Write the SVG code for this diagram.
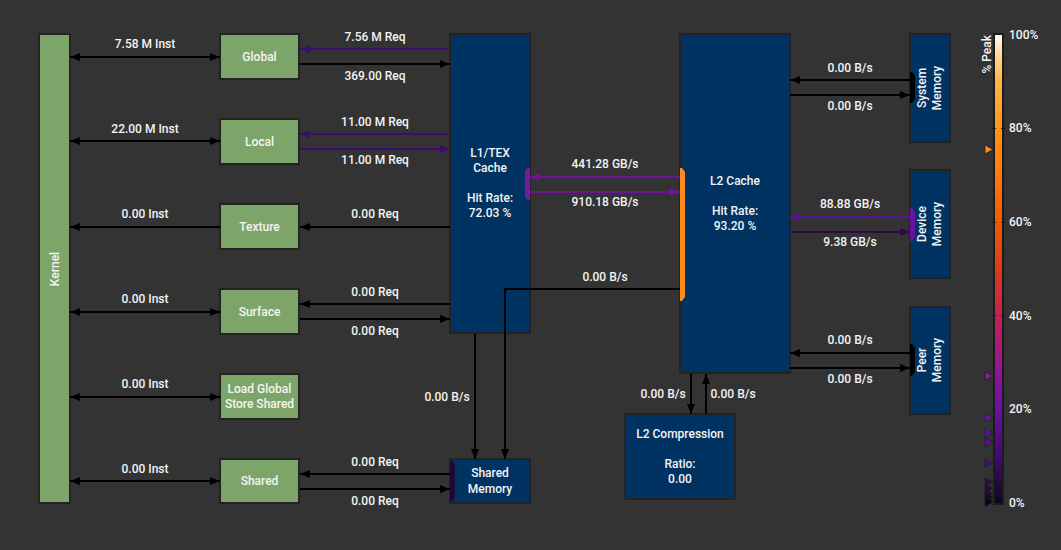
<svg xmlns="http://www.w3.org/2000/svg" width="1061" height="550" viewBox="0 0 1061 550">
<style>
.t{font-family:Roboto,"Liberation Sans",sans-serif;font-size:12px;font-weight:500;fill:#f4f4f4}
.m{text-anchor:middle}
.g{fill:#7da56a;stroke:#232323;stroke-width:2}
.b{fill:#003262;stroke:#232323;stroke-width:2}
.c{fill:none;stroke-width:2}
.k{stroke:#000}
.p1{stroke:#3d0c6e}
.p2{stroke:#70129b}
.p3{stroke:#5f1094}
.p4{stroke:#2c0a4e}
</style>
<defs>
<marker id="mk" viewBox="0 0 10 8" refX="10" refY="4" markerWidth="10" markerHeight="8" markerUnits="userSpaceOnUse" orient="auto-start-reverse"><path d="M0,0L10,4L0,8z" fill="#000"/></marker>
<marker id="m1" viewBox="0 0 10 8" refX="10" refY="4" markerWidth="10" markerHeight="8" markerUnits="userSpaceOnUse" orient="auto-start-reverse"><path d="M0,0L10,4L0,8z" fill="#3d0c6e"/></marker>
<marker id="m2" viewBox="0 0 10 8" refX="10" refY="4" markerWidth="10" markerHeight="8" markerUnits="userSpaceOnUse" orient="auto-start-reverse"><path d="M0,0L10,4L0,8z" fill="#70129b"/></marker>
<marker id="m3" viewBox="0 0 10 8" refX="10" refY="4" markerWidth="10" markerHeight="8" markerUnits="userSpaceOnUse" orient="auto-start-reverse"><path d="M0,0L10,4L0,8z" fill="#5f1094"/></marker>
<marker id="m4" viewBox="0 0 10 8" refX="10" refY="4" markerWidth="10" markerHeight="8" markerUnits="userSpaceOnUse" orient="auto-start-reverse"><path d="M0,0L10,4L0,8z" fill="#2c0a4e"/></marker>
<linearGradient id="peak" x1="0" y1="1" x2="0" y2="0">
<stop offset="0" stop-color="#0d0520"/>
<stop offset="0.05" stop-color="#2a0848"/>
<stop offset="0.1" stop-color="#420a74"/>
<stop offset="0.2" stop-color="#6c0fa3"/>
<stop offset="0.3" stop-color="#9a1690"/>
<stop offset="0.4" stop-color="#c4224c"/>
<stop offset="0.5" stop-color="#dc3a1c"/>
<stop offset="0.6" stop-color="#f05800"/>
<stop offset="0.7" stop-color="#ff780a"/>
<stop offset="0.8" stop-color="#ff9418"/>
<stop offset="0.9" stop-color="#ffb444"/>
<stop offset="0.96" stop-color="#ffdc9a"/>
<stop offset="1" stop-color="#fffcf4"/>
</linearGradient>
</defs>
<rect width="1061" height="550" fill="#333333"/>

<g id="kernel">
<rect class="g" x="39" y="34" width="31" height="469"/>
<text class="t m" transform="translate(59,269) rotate(-90)">Kernel</text>
</g>
<g id="global">
<rect class="g" x="220" y="34" width="79" height="45"/>
<text class="t m" x="259.5" y="61">Global</text>
</g>
<g id="local">
<rect class="g" x="220" y="119" width="79" height="45"/>
<text class="t m" x="259.5" y="146">Local</text>
</g>
<g id="texture">
<rect class="g" x="220" y="204" width="79" height="45"/>
<text class="t m" x="259.5" y="231">Texture</text>
</g>
<g id="surface">
<rect class="g" x="220" y="289" width="79" height="45"/>
<text class="t m" x="259.5" y="316">Surface</text>
</g>
<g id="ldgsts">
<rect class="g" x="220" y="374" width="79" height="45"/>
<text class="t m" x="259.5" y="393">Load Global</text>
<text class="t m" x="259.5" y="408">Store Shared</text>
</g>
<g id="shared">
<rect class="g" x="220" y="459" width="79" height="44"/>
<text class="t m" x="259.5" y="485">Shared</text>
</g>

<g id="l1tex">
<rect class="b" x="450" y="34" width="80" height="299"/>
<polygon points="530,168 530,200 528,200 525,197 525,171 528,168" fill="#7a1aa0"/>
<text class="t m" x="490" y="157">L1/TEX</text>
<text class="t m" x="490" y="172">Cache</text>
<text class="t m" x="490" y="202">Hit Rate:</text>
<text class="t m" x="490" y="217">72.03 %</text>
</g>
<g id="sharedmem">
<rect class="b" x="450" y="459" width="80" height="44"/>
<polygon points="450,461 452,461 455,465 455,497 452,501 450,501" fill="#1d0838"/>
<text class="t m" x="490" y="477">Shared</text>
<text class="t m" x="490" y="493">Memory</text>
</g>
<g id="l2">
<rect class="b" x="680" y="34" width="110" height="339"/>
<polygon points="680,168 682,168 685,172 685,297 682,301 680,301" fill="#ff8a1e"/>
<text class="t m" x="735" y="185">L2 Cache</text>
<text class="t m" x="735" y="215">Hit Rate:</text>
<text class="t m" x="735" y="230">93.20 %</text>
</g>
<g id="l2comp">
<rect class="b" x="625" y="414" width="110" height="85"/>
<text class="t m" x="680" y="438">L2 Compression</text>
<text class="t m" x="680" y="468">Ratio:</text>
<text class="t m" x="680" y="483">0.00</text>
</g>
<g id="sysmem">
<rect class="b" x="910" y="34" width="40" height="108"/>
<polygon points="910,72 912,72 915,76 915,99 912,103 910,103" fill="#000"/>
<text class="t m" transform="translate(926,88) rotate(-90)">System</text>
<text class="t m" transform="translate(941,88) rotate(-90)">Memory</text>
</g>
<g id="devmem">
<rect class="b" x="910" y="170" width="40" height="108"/>
<polygon points="910,208 912,208 915,212 915,237 912,241 910,241" fill="#6a12a0"/>
<text class="t m" transform="translate(926,224) rotate(-90)">Device</text>
<text class="t m" transform="translate(941,224) rotate(-90)">Memory</text>
</g>
<g id="peermem">
<rect class="b" x="910" y="307" width="40" height="107"/>
<polygon points="910,344 912,344 915,348 915,372 912,376 910,376" fill="#000"/>
<text class="t m" transform="translate(926,360) rotate(-90)">Peer</text>
<text class="t m" transform="translate(941,360) rotate(-90)">Memory</text>
</g>

<g id="connectors">
<line class="c k" x1="70" y1="57" x2="220" y2="57" marker-start="url(#mk)" marker-end="url(#mk)"/>
<line class="c k" x1="70" y1="141" x2="220" y2="141" marker-start="url(#mk)" marker-end="url(#mk)"/>
<line class="c k" x1="220" y1="227" x2="70" y2="227" marker-end="url(#mk)"/>
<line class="c k" x1="70" y1="312" x2="220" y2="312" marker-start="url(#mk)" marker-end="url(#mk)"/>
<line class="c k" x1="70" y1="397" x2="220" y2="397" marker-start="url(#mk)" marker-end="url(#mk)"/>
<line class="c k" x1="70" y1="481" x2="220" y2="481" marker-start="url(#mk)" marker-end="url(#mk)"/>

<line class="c p1" x1="450" y1="49" x2="300" y2="49" marker-end="url(#m1)"/>
<line class="c k" x1="300" y1="64" x2="450" y2="64" marker-end="url(#mk)"/>
<line class="c p1" x1="450" y1="134" x2="300" y2="134" marker-end="url(#m1)"/>
<line class="c p1" x1="300" y1="149" x2="450" y2="149" marker-end="url(#m1)"/>
<line class="c k" x1="450" y1="227" x2="300" y2="227" marker-end="url(#mk)"/>
<line class="c k" x1="450" y1="304" x2="300" y2="304" marker-end="url(#mk)"/>
<line class="c k" x1="300" y1="319" x2="450" y2="319" marker-end="url(#mk)"/>
<line class="c k" x1="450" y1="474" x2="300" y2="474" marker-end="url(#mk)"/>
<line class="c k" x1="300" y1="489" x2="450" y2="489" marker-end="url(#mk)"/>

<line class="c p2" x1="680" y1="177" x2="530" y2="177" marker-end="url(#m2)"/>
<line class="c p2" x1="530" y1="192" x2="680" y2="192" marker-end="url(#m2)"/>

<line class="c k" x1="475" y1="334" x2="475" y2="459" marker-end="url(#mk)"/>
<path class="c k" d="M680,289H505V459" marker-end="url(#mk)"/>

<line class="c k" x1="910" y1="80" x2="790" y2="80" marker-end="url(#mk)"/>
<line class="c k" x1="790" y1="95" x2="910" y2="95" marker-end="url(#mk)"/>
<line class="c p3" x1="910" y1="217" x2="790" y2="217" marker-end="url(#m3)"/>
<line class="c p4" x1="790" y1="232" x2="910" y2="232" marker-end="url(#m4)"/>
<line class="c k" x1="910" y1="353" x2="790" y2="353" marker-end="url(#mk)"/>
<line class="c k" x1="790" y1="368" x2="910" y2="368" marker-end="url(#mk)"/>

<line class="c k" x1="691" y1="374" x2="691" y2="414" marker-end="url(#mk)"/>
<line class="c k" x1="706" y1="414" x2="706" y2="374" marker-end="url(#mk)"/>

<text class="t m" x="145" y="48">7.58 M Inst</text>
<text class="t m" x="145" y="133">22.00 M Inst</text>
<text class="t m" x="145" y="218">0.00 Inst</text>
<text class="t m" x="145" y="303">0.00 Inst</text>
<text class="t m" x="145" y="388">0.00 Inst</text>
<text class="t m" x="145" y="473">0.00 Inst</text>

<text class="t m" x="375" y="41">7.56 M Req</text>
<text class="t m" x="375" y="80">369.00 Req</text>
<text class="t m" x="375" y="126">11.00 M Req</text>
<text class="t m" x="375" y="164">11.00 M Req</text>
<text class="t m" x="375" y="218">0.00 Req</text>
<text class="t m" x="375" y="296">0.00 Req</text>
<text class="t m" x="375" y="335">0.00 Req</text>
<text class="t m" x="375" y="466">0.00 Req</text>
<text class="t m" x="375" y="505">0.00 Req</text>

<text class="t m" x="605" y="168">441.28 GB/s</text>
<text class="t m" x="605" y="206">910.18 GB/s</text>
<text class="t m" x="605" y="281">0.00 B/s</text>
<text class="t m" x="447" y="401">0.00 B/s</text>

<text class="t m" x="850" y="72">0.00 B/s</text>
<text class="t m" x="850" y="110">0.00 B/s</text>
<text class="t m" x="850" y="208">88.88 GB/s</text>
<text class="t m" x="850" y="246">9.38 GB/s</text>
<text class="t m" x="850" y="344">0.00 B/s</text>
<text class="t m" x="850" y="383">0.00 B/s</text>

<text class="t m" x="663" y="398">0.00 B/s</text>
<text class="t m" x="733" y="398">0.00 B/s</text>
</g>

<g id="legend">
<rect x="993" y="33" width="11" height="472" fill="#1c1c1c"/>
<rect x="995" y="35" width="7" height="468" fill="url(#peak)"/>
<g stroke="#1c1c1c" stroke-width="1">
<line x1="992" y1="128.5" x2="996" y2="128.5"/><line x1="1001" y1="128.5" x2="1005" y2="128.5"/>
<line x1="992" y1="222.5" x2="996" y2="222.5"/><line x1="1001" y1="222.5" x2="1005" y2="222.5"/>
<line x1="992" y1="315.5" x2="996" y2="315.5"/><line x1="1001" y1="315.5" x2="1005" y2="315.5"/>
<line x1="992" y1="409.5" x2="996" y2="409.5"/><line x1="1001" y1="409.5" x2="1005" y2="409.5"/>
</g>
<text class="t" x="1009" y="39">100%</text>
<text class="t" x="1009" y="132">80%</text>
<text class="t" x="1009" y="226">60%</text>
<text class="t" x="1009" y="320">40%</text>
<text class="t" x="1009" y="413">20%</text>
<text class="t" x="1009" y="507">0%</text>
<text class="t" text-anchor="end" transform="translate(991,35) rotate(-90)">% Peak</text>
<g stroke="#222" stroke-width="0.8">
<polygon points="985,145 993,149.5 985,154" fill="#ff8a1e"/>
<polygon points="985,371.5 993,376 985,380.5" fill="#8c1a95"/>
<polygon points="985,413 993,417.5 985,422" fill="#6c12a0"/>
<polygon points="985,428 993,432.5 985,437" fill="#62109a"/>
<polygon points="985,437.5 993,442 985,446.5" fill="#5a1094"/>
<polygon points="985,458.5 993,463 985,467.5" fill="#440c78"/>
<polygon points="985,477.5 993,482 985,486.5" fill="#2c0a4e"/>
<polygon points="985,484 993,488.5 985,493" fill="#240840"/>
<polygon points="985,489 993,493.5 985,498" fill="#1d0838"/>
<polygon points="985,492.5 993,497 985,501.5" fill="#140528"/>
<polygon points="985,495.5 993,500 985,504.5" fill="#0d0520"/>
<polygon points="985,497.5 993,502 985,506.5" fill="#080312"/>
</g>
</g>
</svg>
